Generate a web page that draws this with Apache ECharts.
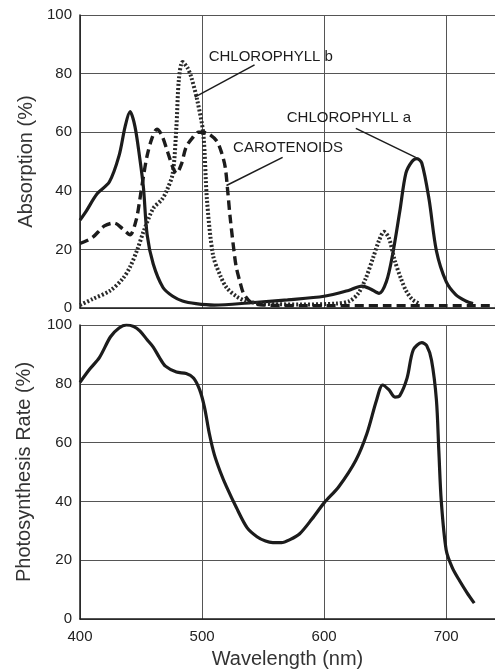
<!DOCTYPE html>
<html>
<head>
<meta charset="utf-8">
<script src="https://cdn.jsdelivr.net/npm/echarts@6/dist/echarts.min.js"></script>
<style>
  html, body { margin: 0; padding: 0; background: #fff; }
  #chart { width: 495px; height: 670px; }
</style>
</head>
<body>
<div id="chart"></div>
<script>
// absorption spectra (top panel)
const chlAWl  = [400, 405, 414, 424, 432, 437, 441, 445, 449, 452, 455, 460, 468, 476, 484, 495, 510, 540, 570, 600, 620, 631, 638, 645, 651, 656, 662, 667, 672, 676, 680, 686, 692, 700, 708, 716, 722];
const chlAVal = [30, 33, 39, 43, 52, 62, 67, 62, 51, 41, 25, 15, 7, 4, 2.4, 1.5, 1, 1.8, 2.8, 4, 6, 7.5, 6.5, 5, 9, 18, 33, 46, 50, 51, 49.5, 37, 19.5, 9, 4.5, 2.4, 1.5];

const chlBWl  = [400, 410, 425, 435, 441, 447, 452, 460, 467, 471, 476, 479, 481, 484, 488, 491, 496, 501, 504, 509, 515, 520, 528, 536, 550, 580, 610, 621, 628, 634, 640, 645, 649, 653, 658, 663, 667, 672, 678];
const chlBVal = [1, 3, 6, 10, 14, 20, 26, 34, 37, 40, 46, 62, 78, 84, 82, 79, 71, 59.5, 37, 18, 11, 7, 4, 2.4, 1.5, 1.2, 1.5, 2.4, 5, 10, 17, 23, 26, 24, 16, 10, 6, 3, 1.5];

const carWl  = [400, 410, 420, 428, 435, 441, 446, 449, 452, 455, 459, 463, 467, 472, 476, 479, 483, 487, 492, 497, 500, 505, 512, 516, 519, 521, 523, 526, 528, 531, 534, 540, 550, 600, 650, 700, 740];
const carVal = [22, 24, 28, 29, 27, 25, 30, 37, 45, 52, 58, 61, 59, 53, 48, 46, 49, 55, 58, 60, 60, 59.5, 57, 53, 48, 40, 31, 20, 14, 9, 5, 2, 1, 0.8, 0.8, 0.8, 0.8];

// action spectrum (bottom panel)
const photoWl  = [400, 408, 416, 425, 432, 438, 444, 449, 455, 460, 465, 470, 479, 487, 493, 498, 502, 506, 510, 515, 520, 528, 537, 545, 552, 558, 565, 572, 580, 590, 600, 612, 626, 635, 643, 648, 653, 658, 662, 668, 673, 680, 684, 688, 692, 694, 696, 700, 705, 711, 717, 723];
const photoVal = [80.5, 85, 89, 96, 99, 100, 99.5, 98, 95, 92.5, 89, 86, 84, 83.5, 82, 78, 72, 63, 56, 50, 45, 38, 31, 28, 26.5, 26, 26, 27, 29, 34, 39.5, 45, 54, 63, 74.5, 79.6, 78, 75.5, 76, 82, 91.5, 94, 93, 88, 74.5, 57, 40, 23.5, 17.5, 13, 9, 5.4];

// curve labels and leader lines, in data units
const labelText  = ['CHLOROPHYLL b', 'CHLOROPHYLL a', 'CAROTENOIDS'];
const labelAt    = [[505, 85.6], [569, 65], [525, 54.5]];
const leaderFrom = [[543, 83], [626, 61.3], [566, 51.4]];
const leaderTo   = [[494, 72], [675, 51.4], [520, 41.8]];

const pairs = (xs, ys) => xs.map((x, i) => [x, ys[i]]);
const ink = '#1c1c1c';
const font = 'Liberation Sans, Arial, sans-serif';

function note(i) {
  return {
    markLine: {
      silent: true, symbol: ['none', 'none'],
      lineStyle: { color: ink, width: 1.5, type: 'solid' },
      label: { show: false },
      data: [[{ coord: leaderFrom[i] }, { coord: leaderTo[i] }]]
    },
    markPoint: {
      silent: true, symbol: 'rect', symbolSize: 1,
      itemStyle: { color: 'rgba(0,0,0,0)' },
      label: { show: true, position: 'right', distance: 0, color: ink, fontSize: 15, fontFamily: font,
               formatter: () => labelText[i] },
      data: [{ coord: labelAt[i] }]
    }
  };
}

const yAxisBase = {
  type: 'value', min: 0, max: 100, interval: 20,
  nameLocation: 'middle', nameGap: 44,
  nameTextStyle: { fontSize: 20, color: '#333', fontFamily: font },
  axisLine: { show: true, lineStyle: { color: ink, width: 1.5 } },
  axisTick: { show: false },
  axisLabel: { fontSize: 15, color: '#222', fontFamily: font, margin: 8 },
  splitLine: { lineStyle: { color: '#555', width: 1 } }
};
const xAxisBase = {
  type: 'value', min: 400, max: 740, interval: 100,
  axisLine: { lineStyle: { color: ink, width: 1.5 } },
  axisTick: { show: false },
  splitLine: { lineStyle: { color: '#555', width: 1 } }
};

const chart = echarts.init(document.getElementById('chart'));
chart.setOption({
  backgroundColor: '#fff',
  animation: false,
  grid: [
    { left: 80, right: 0, top: 15, height: 293 },
    { left: 80, right: 0, top: 325, height: 294 }
  ],
  xAxis: [
    Object.assign({}, xAxisBase, { gridIndex: 0, axisLabel: { show: false } }),
    Object.assign({}, xAxisBase, {
      gridIndex: 1, name: 'Wavelength (nm)', nameLocation: 'middle', nameGap: 30,
      nameTextStyle: { fontSize: 20, color: '#333', fontFamily: font },
      axisLabel: { fontSize: 15, color: '#222', fontFamily: font, margin: 10, showMaxLabel: false }
    })
  ],
  yAxis: [
    Object.assign({}, yAxisBase, { gridIndex: 0, name: 'Absorption (%)' }),
    Object.assign({}, yAxisBase, { gridIndex: 1, name: 'Photosynthesis Rate (%)', nameGap: 46 })
  ],
  series: [
    Object.assign({
      name: 'Chlorophyll a', type: 'line', xAxisIndex: 0, yAxisIndex: 0,
      data: pairs(chlAWl, chlAVal), smooth: 0.3, showSymbol: false,
      lineStyle: { color: ink, width: 3.2 }
    }, note(1)),
    Object.assign({
      name: 'Chlorophyll b', type: 'line', xAxisIndex: 0, yAxisIndex: 0,
      data: pairs(chlBWl, chlBVal), smooth: 0.3, showSymbol: false,
      lineStyle: { color: '#2a2a2a', width: 4, type: [2, 2] }
    }, note(0)),
    Object.assign({
      name: 'Carotenoids', type: 'line', xAxisIndex: 0, yAxisIndex: 0,
      data: pairs(carWl, carVal), smooth: 0.3, showSymbol: false,
      lineStyle: { color: ink, width: 3.4, type: [9, 5] }
    }, note(2)),
    {
      name: 'Photosynthesis', type: 'line', xAxisIndex: 1, yAxisIndex: 1,
      data: pairs(photoWl, photoVal), smooth: 0.3, showSymbol: false,
      lineStyle: { color: ink, width: 3.2 }
    }
  ]
});
</script>
</body>
</html>
